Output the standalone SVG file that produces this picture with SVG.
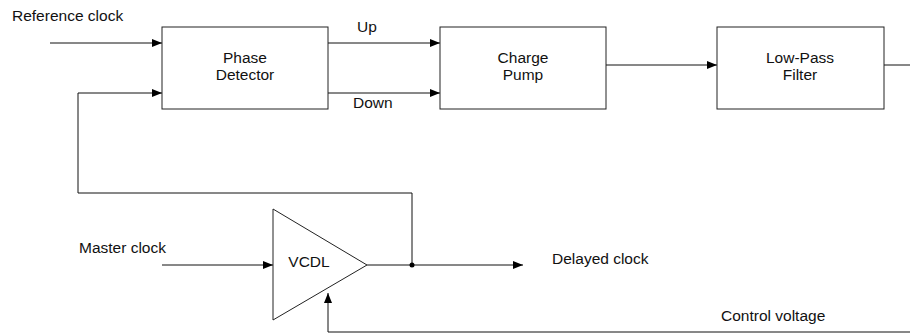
<svg xmlns="http://www.w3.org/2000/svg" width="910" height="335" viewBox="0 0 910 335">
<style>
text{font-family:"Liberation Sans",Arial,sans-serif;font-size:15.5px;fill:#111}
.box{fill:#fff;stroke:#222;stroke-width:1}
.ln{fill:none;stroke:#111;stroke-width:1}
.mid{text-anchor:middle}
</style>
<defs>
<marker id="ah" viewBox="0 0 10 8" refX="10" refY="4" markerWidth="10" markerHeight="8" markerUnits="userSpaceOnUse" orient="auto">
<path d="M0,0 L10,4 L0,8 Z" fill="#000"/>
</marker>
</defs>
<rect width="910" height="335" fill="#fff"/>
<text x="12" y="21">Reference clock</text>
<text x="357" y="32">Up</text>
<text x="353" y="108">Down</text>
<text x="79" y="253">Master clock</text>
<text x="552" y="264">Delayed clock</text>
<text x="721" y="321">Control voltage</text>
<g id="connectors">
<line class="ln" x1="50" y1="43" x2="162" y2="43" marker-end="url(#ah)"/>
<polyline class="ln" points="412,265 412,193 78,193 78,93 162,93" marker-end="url(#ah)"/>
<line class="ln" x1="328" y1="43" x2="440" y2="43" marker-end="url(#ah)"/>
<line class="ln" x1="328" y1="93" x2="440" y2="93" marker-end="url(#ah)"/>
<line class="ln" x1="606" y1="65" x2="717" y2="65" marker-end="url(#ah)"/>
<line class="ln" x1="884" y1="65" x2="910" y2="65"/>
<line class="ln" x1="162" y1="265" x2="273" y2="265" marker-end="url(#ah)"/>
<line class="ln" x1="367" y1="265" x2="523" y2="265" marker-end="url(#ah)"/>
<circle cx="412" cy="265" r="2.5" fill="#000"/>
<polyline class="ln" points="910,332 328,332 328,293" marker-end="url(#ah)"/>
</g>
<g id="phase-detector">
<rect class="box" x="162" y="27" width="166" height="82"/>
<text class="mid" x="245" y="63">Phase</text>
<text class="mid" x="245" y="80">Detector</text>
</g>
<g id="charge-pump">
<rect class="box" x="440" y="27" width="166" height="82"/>
<text class="mid" x="523" y="63">Charge</text>
<text class="mid" x="523" y="80">Pump</text>
</g>
<g id="low-pass-filter">
<rect class="box" x="717" y="27" width="167" height="82"/>
<text class="mid" x="800" y="63">Low-Pass</text>
<text class="mid" x="800" y="80">Filter</text>
</g>
<g id="vcdl">
<polygon class="box" points="273,209 367,265 273,320"/>
<text class="mid" x="309" y="267">VCDL</text>
</g>
</svg>
